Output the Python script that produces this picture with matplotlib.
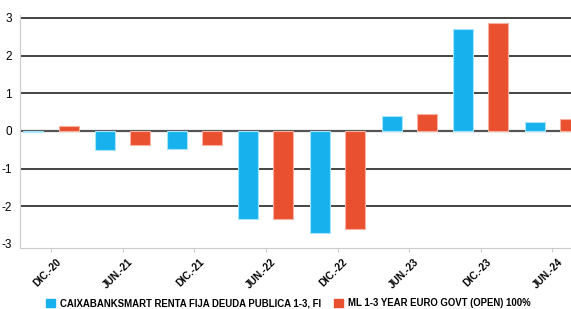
import numpy as np
import matplotlib.pyplot as plt
import matplotlib.transforms as mtransforms
from matplotlib.patches import Patch

plt.rcParams['font.family'] = ['Liberation Sans', 'DejaVu Sans']

# half-year periods and returns (%)
periods = ['DIC.-20', 'JUN.-21', 'DIC.-21', 'JUN.-22', 'DIC.-22', 'JUN.-23', 'DIC.-23', 'JUN.-24']
fund = [-0.02, -0.52, -0.47, -2.35, -2.72, 0.40, 2.70, 0.23]
bench = [0.13, -0.37, -0.37, -2.35, -2.60, 0.44, 2.87, 0.32]
fund_name = 'CAIXABANKSMART RENTA FIJA DEUDA PUBLICA 1-3, FI'
bench_name = 'ML 1-3 YEAR EURO GOVT (OPEN) 100%'

blue = '#17b2ee'
red = '#e9502f'

fig = plt.figure(figsize=(5.71, 3.09), dpi=100)
ax = fig.add_axes([0.035, 0.196, 0.965, 0.756])

x = np.arange(len(periods))
w = 0.28
ax.bar(x - 0.245, fund, w, color=blue, edgecolor='#a8e4fb', linewidth=0.8, zorder=3)
ax.bar(x + 0.245, bench, w, color=red, edgecolor='#f5b0a0', linewidth=0.8, zorder=3)

# gridlines
for v in [-2, -1, 1, 2, 3]:
    ax.axhline(v, color='#111111', lw=1.1, zorder=1)
ax.axhline(0, color='#555555', lw=1.6, zorder=2)

ax.set_xlim(-0.433, 7.26)
ax.set_ylim(-3.12, 3.08)
ax.set_yticks([-3, -2, -1, 0, 1, 2, 3])
ax.set_yticklabels(['-3', '-2', '-1', '0', '1', '2', '3'], fontsize=8.5)
ax.set_xticks(x)
ax.set_xticklabels(periods, rotation=45, ha='right', rotation_mode='anchor',
                   fontsize=7.3, fontweight='bold')
ax.tick_params(axis='x', length=3, color='#cccccc', pad=3)
ax.tick_params(axis='y', length=0, pad=6)
# nudge rotated labels a little to the right, as in the original
shift = mtransforms.ScaledTranslation(0.05, 0, fig.dpi_scale_trans)
for lbl in ax.get_xticklabels():
    lbl.set_transform(lbl.get_transform() + shift)

for s in ['top', 'right']:
    ax.spines[s].set_visible(False)
ax.spines['left'].set_color('#cccccc')
ax.spines['bottom'].set_color('#cccccc')

handles = [Patch(color=blue, label=fund_name), Patch(color=red, label=bench_name)]
fig.legend(handles=handles, loc='lower center', bbox_to_anchor=(0.505, -0.025), ncol=2,
           frameon=False, prop={'size': 6.9, 'weight': 'bold'},
           handlelength=1.0, handleheight=1.0, handletextpad=0.5, columnspacing=1.3)

fig.savefig('out.png', dpi=100)
